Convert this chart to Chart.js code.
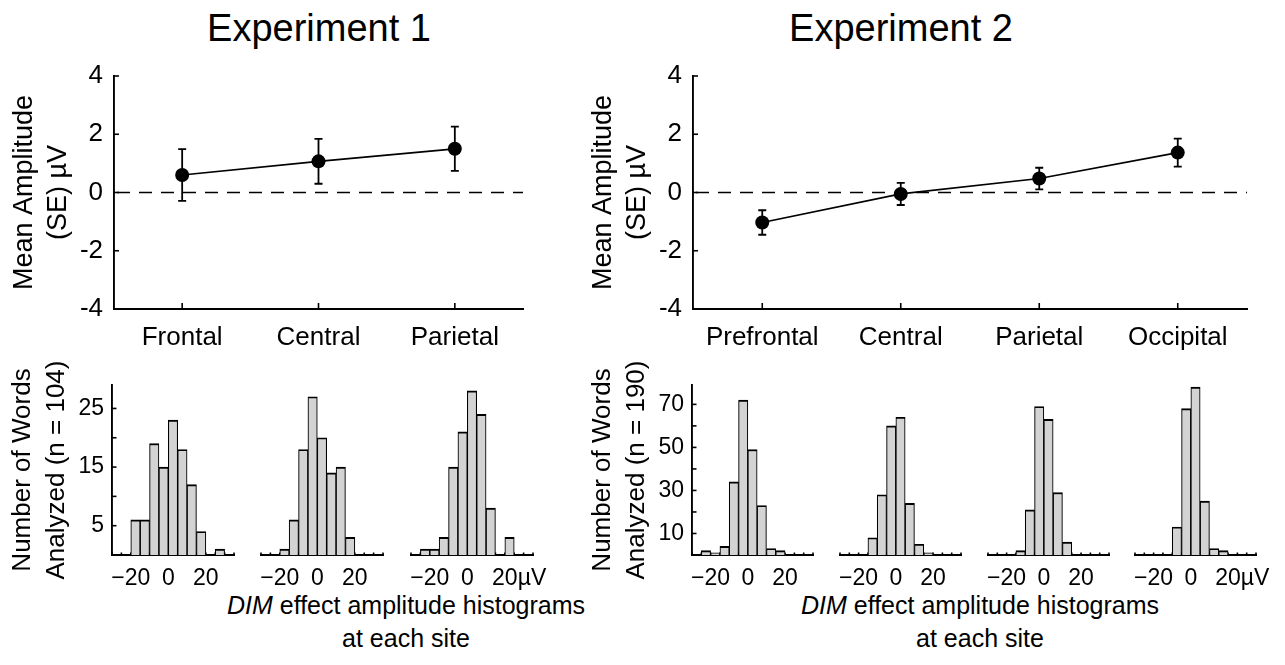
<!DOCTYPE html>
<html>
<head>
<meta charset="utf-8">
<title>DIM effect amplitude</title>
<script src="https://cdn.jsdelivr.net/npm/chart.js@4.4.1/dist/chart.umd.min.js"></script>
<style>
html,body{margin:0;padding:0;background:#fff;}
body{width:1285px;height:665px;position:relative;overflow:hidden;font-family:"Liberation Sans",Arial,Helvetica,sans-serif;color:#000;}
canvas{position:absolute;}
.fig-title{position:absolute;top:9px;font-size:38px;line-height:38px;white-space:nowrap;transform:translateX(-50%);}
.caption{position:absolute;top:589px;font-size:25px;line-height:33px;text-align:center;white-space:nowrap;transform:translateX(-50%);}
</style>
</head>
<body>
<div class="fig-title" style="left:319px">Experiment 1</div>
<div class="fig-title" style="left:901px">Experiment 2</div>
<div class="caption" style="left:406px"><i>DIM</i> effect amplitude histograms<br>at each site</div>
<div class="caption" style="left:980px"><i>DIM</i> effect amplitude histograms<br>at each site</div>
<script>
// ---------------- data ----------------
const exp1Sites = ['Frontal', 'Central', 'Parietal'];
const exp1Means = [0.6, 1.07, 1.5];
const exp1SE = [0.89, 0.77, 0.76];

const exp2Sites = ['Prefrontal', 'Central', 'Parietal', 'Occipital'];
const exp2Means = [-1.03, -0.05, 0.48, 1.37];
const exp2SE = [0.42, 0.38, 0.37, 0.48];

const amplitudeTicks = [-4, -2, 0, 2, 4];
const zeroLine = 0;

const binCenters = [-27.5, -22.5, -17.5, -12.5, -7.5, -2.5, 2.5, 7.5, 12.5, 17.5, 22.5, 27.5, 32.5];
const binEdges = [-30, -25, -20, -15, -10, -5, 0, 5, 10, 15, 20, 25, 30, 35];
const histLabelValues = [-20, 0, 20];
const histLabelText = ['\u221220', '0', '20'];
const histUnit = '\u00b5V';

const exp1Frontal  = [0, 0, 6, 6, 19, 15, 23, 18, 12, 4, 0, 1, 0];
const exp1Central  = [0, 0, 1, 6, 18, 27, 20, 14, 15, 3, 0, 0, 0];
const exp1Parietal = [0, 1, 1, 3, 15, 21, 28, 24, 8, 0, 3, 0, 0];

const exp2Prefrontal = [0, 2, 1, 4, 34, 72, 49, 23, 3, 2, 0, 0, 0];
const exp2Central    = [0, 0, 0, 8, 28, 60, 64, 24, 5, 1, 0, 0, 0];
const exp2Parietal   = [0, 0, 0, 2, 21, 69, 63, 29, 6, 0, 0, 0, 0];
const exp2Occipital  = [0, 0, 0, 0, 13, 68, 78, 25, 3, 2, 0, 0, 0];

const exp1CountTicks = [5, 10, 15, 20, 25];
const exp1CountLabels = [5, 15, 25];
const exp1CountMax = 29;
const exp2CountTicks = [10, 20, 30, 40, 50, 60, 70];
const exp2CountLabels = [10, 30, 50, 70];
const exp2CountMax = 79;

const ampTitle = ['Mean Amplitude', '(SE) \u00b5V'];
const exp1HistTitle = ['Number of Words', 'Analyzed (n = 104)'];
const exp2HistTitle = ['Number of Words', 'Analyzed (n = 190)'];

// ---------------- drawing ----------------
const FONT = '"Liberation Sans", Arial, Helvetica, sans-serif';
Chart.defaults.font.family = FONT;
Chart.defaults.color = '#000';
const AXIS_W = 114;
const LW = 1.9;
const HIST_FONT = 23;

function makeCanvas(area, m) {
  const c = document.createElement('canvas');
  const w = Math.round(area.r - area.l + m.l + m.r);
  const h = Math.round(area.b - area.t + m.t + m.b);
  c.width = w; c.height = h;
  c.style.left = (area.l - m.l) + 'px';
  c.style.top = (area.t - m.t) + 'px';
  c.style.width = w + 'px'; c.style.height = h + 'px';
  document.body.appendChild(c);
  return c;
}

function inwardTicksPlugin(len) {
  return {
    id: 'inwardTicks',
    beforeDatasetsDraw(chart) {
      const ctx = chart.ctx;
      ctx.save();
      ctx.strokeStyle = '#000';
      ctx.lineWidth = 1.6;
      for (const id of Object.keys(len)) {
        const sc = chart.scales[id];
        if (!sc || sc.options.display === false) continue;
        sc.ticks.forEach((t, i) => {
          const p = sc.getPixelForTick(i);
          ctx.beginPath();
          if (sc.isHorizontal()) { ctx.moveTo(p, sc.top); ctx.lineTo(p, sc.top - len[id]); }
          else { ctx.moveTo(sc.right, p); ctx.lineTo(sc.right + len[id], p); }
          ctx.stroke();
        });
      }
      ctx.restore();
    }
  };
}

function errorBarsPlugin(ses) {
  return {
    id: 'errorBars',
    afterDatasetsDraw(chart) {
      const ctx = chart.ctx, ys = chart.scales.y;
      const meta = chart.getDatasetMeta(0), vals = chart.data.datasets[0].data;
      const cap = 4;
      ctx.save();
      ctx.strokeStyle = '#000';
      ctx.lineWidth = 1.8;
      meta.data.forEach((pt, i) => {
        const x = pt.x;
        const hi = ys.getPixelForValue(vals[i] + ses[i]);
        const lo = ys.getPixelForValue(vals[i] - ses[i]);
        ctx.beginPath();
        ctx.moveTo(x, hi); ctx.lineTo(x, lo);
        ctx.moveTo(x - cap, hi); ctx.lineTo(x + cap, hi);
        ctx.moveTo(x - cap, lo); ctx.lineTo(x + cap, lo);
        ctx.stroke();
      });
      ctx.restore();
    }
  };
}

function refLinePlugin(value) {
  return {
    id: 'refLine',
    beforeDatasetsDraw(chart) {
      const ctx = chart.ctx, ys = chart.scales.y, a = chart.chartArea;
      const y = ys.getPixelForValue(value);
      ctx.save();
      ctx.strokeStyle = '#000';
      ctx.lineWidth = 1.6;
      ctx.setLineDash([13, 9]);
      ctx.beginPath();
      ctx.moveTo(a.left + 3, y); ctx.lineTo(a.right, y);
      ctx.stroke();
      ctx.restore();
    }
  };
}

function unitSuffixPlugin(value, text, size, padding) {
  return {
    id: 'unitSuffix',
    afterDraw(chart) {
      const sc = chart.scales.x, ctx = chart.ctx;
      const k = histLabelValues.indexOf(value);
      const label = histLabelText[k];
      ctx.save();
      ctx.font = size + 'px ' + FONT;
      ctx.fillStyle = '#000';
      ctx.textBaseline = 'middle';
      ctx.textAlign = 'left';
      const w = ctx.measureText(label).width;
      const x = sc.getPixelForValue(value) + w / 2;
      const y = sc.top + padding + size * 1.2 / 2;
      ctx.fillText(text, x, y);
      ctx.restore();
    }
  };
}

function siteChart(area, sites, means, ses) {
  const m = { l: AXIS_W, t: 36, r: 22, b: 61 };
  const c = makeCanvas(area, m);
  new Chart(c, {
    type: 'line',
    data: {
      labels: sites,
      datasets: [{
        data: means, borderColor: '#000', borderWidth: 1.7, tension: 0, fill: false,
        pointRadius: 7, pointBackgroundColor: '#000', pointBorderColor: '#000', pointBorderWidth: 0
      }]
    },
    options: {
      responsive: false, animation: false, events: [],
      layout: { padding: { top: m.t, right: m.r, left: 0, bottom: 0 } },
      plugins: { legend: { display: false }, tooltip: { enabled: false } },
      scales: {
        x: {
          type: 'category', offset: true,
          grid: { display: false, drawTicks: false },
          border: { display: true, color: '#000', width: LW },
          ticks: { font: { size: 26 }, padding: 13, maxRotation: 0, autoSkip: false },
          afterFit: s => { s.height = m.b; }
        },
        y: {
          min: -4, max: 4,
          afterBuildTicks: s => { s.ticks = amplitudeTicks.map(v => ({ value: v })); },
          grid: { display: false, drawTicks: false },
          border: { display: true, color: '#000', width: LW },
          ticks: { font: { size: 26 }, padding: 11, callback: v => String(v) },
          title: { display: true, text: ampTitle, font: { size: 27, lineHeight: 34 / 27 }, padding: { top: 8, bottom: 0 } },
          afterFit: s => { s.width = AXIS_W; }
        }
      }
    },
    plugins: [inwardTicksPlugin({ x: 6, y: 5 }), refLinePlugin(zeroLine), errorBarsPlugin(ses)]
  });
}

function histChart(area, counts, yMax, yTicks, yLabels, yTitle, showY, withUnit) {
  const m = { l: showY ? AXIS_W : 15, t: 35, r: 15, b: 45 };
  const c = makeCanvas(area, m);
  const plugins = [inwardTicksPlugin(showY ? { x: 2.5, y: 4.5 } : { x: 2.5 })];
  if (withUnit) plugins.push(unitSuffixPlugin(20, histUnit, HIST_FONT, 10));
  const yScale = {
    display: showY, min: 0, max: yMax,
    afterBuildTicks: s => { s.ticks = yTicks.map(v => ({ value: v })); },
    grid: { display: false, drawTicks: false },
    border: { display: true, color: '#000', width: LW },
    ticks: { font: { size: HIST_FONT }, padding: 8, autoSkip: false, callback: v => (yLabels.includes(v) ? String(v) : '') },
    title: { display: showY, text: yTitle, font: { size: 26, lineHeight: 34 / 26 }, padding: { top: 8, bottom: 0 } }
  };
  if (showY) yScale.afterFit = s => { s.width = AXIS_W; };
  new Chart(c, {
    type: 'bar',
    data: {
      datasets: [{
        data: binCenters.map((x, i) => ({ x: x, y: counts[i] > 0 ? counts[i] : null })),
        backgroundColor: '#d3d3d3', borderColor: '#000',
        borderWidth: { top: 1.9, left: 1.1, right: 1.1, bottom: 0 },
        barPercentage: 1, categoryPercentage: 1, borderSkipped: 'start'
      }]
    },
    options: {
      responsive: false, animation: false, events: [],
      layout: { padding: { top: m.t, right: m.r, left: showY ? 0 : m.l, bottom: 0 } },
      plugins: { legend: { display: false }, tooltip: { enabled: false } },
      scales: {
        x: {
          type: 'linear', min: binEdges[0], max: binEdges[binEdges.length - 1], offset: false,
          afterBuildTicks: s => { s.ticks = binEdges.map(v => ({ value: v })); },
          grid: { display: false, drawTicks: false },
          border: { display: true, color: '#000', width: LW },
          ticks: {
            font: { size: HIST_FONT }, padding: 10, autoSkip: false, maxRotation: 0,
            callback: v => { const k = histLabelValues.indexOf(v); return k < 0 ? '' : histLabelText[k]; }
          },
          afterFit: s => { s.height = m.b; }
        },
        y: yScale
      }
    },
    plugins: plugins
  });
}

// top panels
siteChart({ l: 114, t: 76, r: 523, b: 309 }, exp1Sites, exp1Means, exp1SE);
siteChart({ l: 693, t: 76, r: 1247, b: 309 }, exp2Sites, exp2Means, exp2SE);

// experiment 1 histograms
histChart({ l: 112, t: 385, r: 234, b: 555 }, exp1Frontal, exp1CountMax, exp1CountTicks, exp1CountLabels, exp1HistTitle, true, false);
histChart({ l: 261, t: 385, r: 383, b: 555 }, exp1Central, exp1CountMax, exp1CountTicks, exp1CountLabels, exp1HistTitle, false, false);
histChart({ l: 411, t: 385, r: 533, b: 555 }, exp1Parietal, exp1CountMax, exp1CountTicks, exp1CountLabels, exp1HistTitle, false, true);

// experiment 2 histograms
histChart({ l: 692, t: 385, r: 813, b: 555 }, exp2Prefrontal, exp2CountMax, exp2CountTicks, exp2CountLabels, exp2HistTitle, true, false);
histChart({ l: 840, t: 385, r: 961, b: 555 }, exp2Central, exp2CountMax, exp2CountTicks, exp2CountLabels, exp2HistTitle, false, false);
histChart({ l: 988, t: 385, r: 1109, b: 555 }, exp2Parietal, exp2CountMax, exp2CountTicks, exp2CountLabels, exp2HistTitle, false, false);
histChart({ l: 1135, t: 385, r: 1256, b: 555 }, exp2Occipital, exp2CountMax, exp2CountTicks, exp2CountLabels, exp2HistTitle, false, true);
</script>
</body>
</html>
